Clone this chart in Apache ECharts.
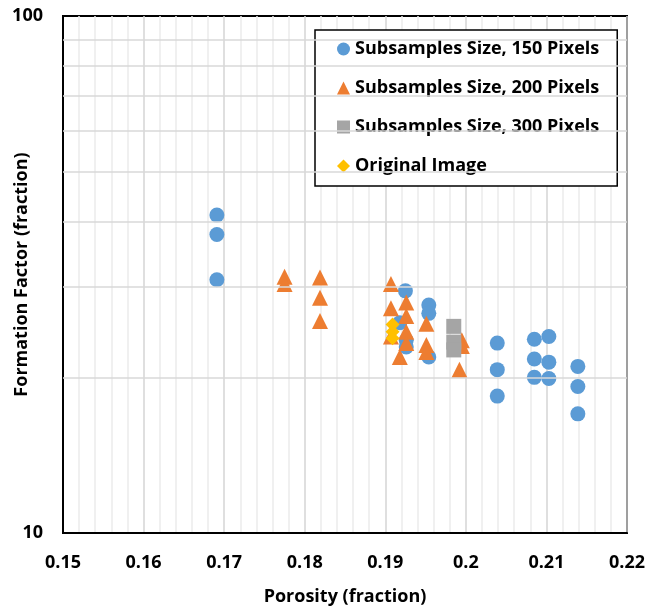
<!DOCTYPE html>
<html>
<head>
<meta charset="utf-8">
<script src="https://cdn.jsdelivr.net/npm/echarts@6/dist/echarts.min.js"></script>
<style>
  html, body { margin: 0; padding: 0; background: #fff; }
  #chart { width: 648px; height: 609px; }
</style>
</head>
<body>
<div id="chart"></div>
<script>
// porosity (fraction), formation factor (fraction)
const sub150 = [
    [0.1691, 41.2], [0.1691, 37.8], [0.1691, 30.9],
    [0.1925, 29.4], [0.1918, 25.5], [0.1926, 23.6], [0.1926, 22.9],
    [0.1954, 27.6], [0.1954, 26.6], [0.1954, 21.9],
    [0.2039, 23.3], [0.2039, 20.7], [0.2039, 18.4],
    [0.2085, 23.7], [0.2085, 21.7], [0.2085, 20.0],
    [0.2103, 24.0], [0.2103, 21.4], [0.2103, 19.9],
    [0.2139, 21.0], [0.2139, 19.2], [0.2139, 17.0]
];
const sub200 = [
    [0.1775, 31.3], [0.1775, 30.3],
    [0.1819, 31.2], [0.1819, 28.5], [0.1819, 25.7],
    [0.1907, 30.3], [0.1907, 27.2], [0.1907, 24.0],
    [0.1926, 27.9], [0.1926, 26.3], [0.1926, 24.5], [0.1926, 23.3],
    [0.1918, 21.9],
    [0.1951, 25.4], [0.1951, 23.1], [0.1951, 22.4],
    [0.1995, 23.6], [0.1995, 23.0], [0.1992, 20.7]
];
const sub300 = [[0.1985, 25.1], [0.1985, 23.4], [0.1985, 22.6]];
const original = [[0.1909, 25.3], [0.1909, 24.5], [0.1909, 23.8]];

const seriesNames = ["Subsamples Size, 150 Pixels", "Subsamples Size, 200 Pixels", "Subsamples Size, 300 Pixels", "Original Image"];
const logGridValues = [20, 30, 40, 50, 60, 70, 80, 90];

const font = "'Open Sans', sans-serif";
const txt = {fontFamily: font, fontWeight: "bold", fontSize: 18, color: "#000"};
const chart = echarts.init(document.getElementById("chart"));

chart.setOption({
    animation: false,
    grid: {left: 63, right: 21, top: 16, bottom: 76, outerBoundsMode: "none", containLabel: false,
           show: true, borderColor: "#000", borderWidth: 2, backgroundColor: "#fff"},
    legend: {
        orient: "vertical", left: 315, top: 30,
        data: seriesNames.map((n, i) => ({name: n, icon: ["circle", "triangle", "rect", "diamond"][i]})),
        itemWidth: 13, itemHeight: 13, itemGap: 21,
        padding: [10, 18, 11, 22],
        backgroundColor: "#fff", borderColor: "#000", borderWidth: 1.5,
        textStyle: Object.assign({lineHeight: 18}, txt)
    },
    xAxis: {
        type: "value", min: 0.15, max: 0.22, interval: 0.01,
        name: "Porosity (fraction)", nameLocation: "middle", nameGap: 55, nameMoveOverlap: false,
        nameTextStyle: txt,
        axisLine: {show: true, lineStyle: {color: "#000", width: 2}},
        axisTick: {show: false},
        axisLabel: Object.assign({margin: 21}, txt),
        splitLine: {show: true, lineStyle: {color: "#d4d4d4", width: 1.5}},
        minorTick: {show: false, splitNumber: 5},
        minorSplitLine: {show: true, lineStyle: {color: "#ececec", width: 1.5}}
    },
    yAxis: {
        type: "log", logBase: 10, min: 10, max: 100,
        name: "Formation Factor (fraction)", nameLocation: "middle", nameGap: 32, nameMoveOverlap: false,
        nameTextStyle: txt,
        axisLine: {show: true, lineStyle: {color: "#000", width: 2}},
        axisTick: {show: false},
        axisLabel: Object.assign({margin: 20}, txt),
        splitLine: {show: false}
    },
    series: [
        {
            name: "grid", type: "scatter", data: [], z: 1, silent: true,
            markLine: {
                silent: true, symbol: "none", label: {show: false},
                lineStyle: {color: "#d9d9d9", width: 1.5, type: "solid"},
                emphasis: {disabled: true},
                data: logGridValues.map(v => ({yAxis: v}))
            }
        },
        {name: seriesNames[0], type: "scatter", data: sub150, symbol: "circle", symbolSize: 15, itemStyle: {color: "#5B9BD5", opacity: 1}, z: 3},
        {name: seriesNames[1], type: "scatter", data: sub200, symbol: "triangle", symbolSize: 16, itemStyle: {color: "#ED7D31", opacity: 1}, z: 4},
        {name: seriesNames[2], type: "scatter", data: sub300, symbol: "rect", symbolSize: 15, itemStyle: {color: "#A5A5A5", opacity: 1}, z: 5},
        {name: seriesNames[3], type: "scatter", data: original, symbol: "diamond", symbolSize: 14, itemStyle: {color: "#FFC000", opacity: 1}, z: 6}
    ]
});
</script>
</body>
</html>
